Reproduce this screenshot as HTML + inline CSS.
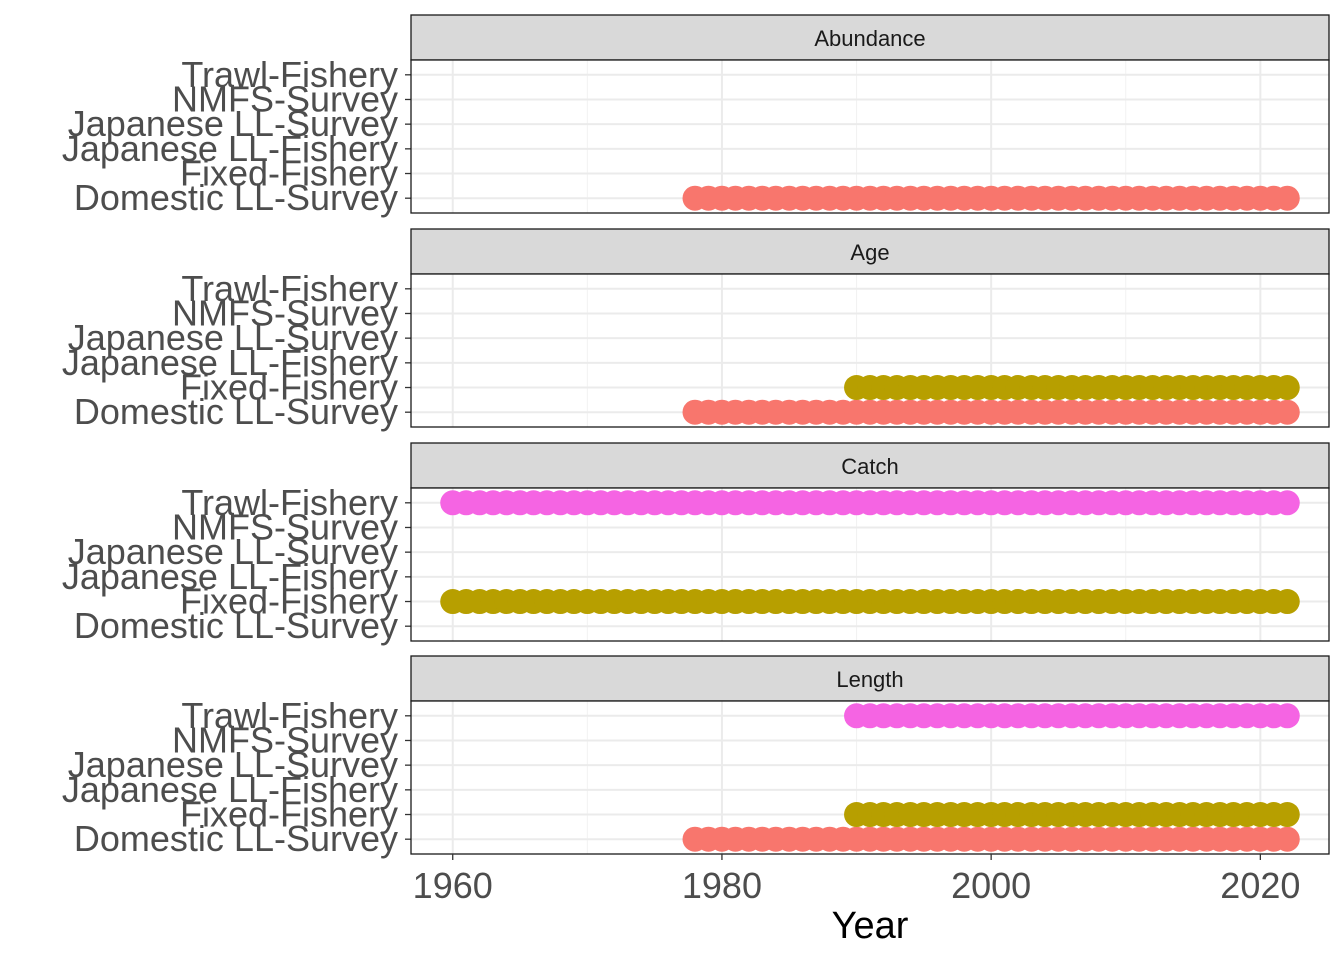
<!DOCTYPE html>
<html><head><meta charset="utf-8">
<style>
html,body{margin:0;padding:0;background:#fff;}
svg{display:block;font-family:"Liberation Sans",Arial,sans-serif;}
</style></head>
<body>
<svg id="chart" width="1344" height="960" viewBox="0 0 1344 960" xmlns="http://www.w3.org/2000/svg"></svg>
<script>
const categories = ["Domestic LL-Survey","Fixed-Fishery","Japanese LL-Fishery","Japanese LL-Survey","NMFS-Survey","Trawl-Fishery"];
const colors = {"Domestic LL-Survey":"#F8766D","Fixed-Fishery":"#B79F00","Trawl-Fishery":"#F564E3"};
const panels = ["Abundance","Age","Catch","Length"];
const xTicks = [1960,1980,2000,2020];
const xMinor = [1970,1990,2010];
// series: [panel, category, startYear, endYear]
const seriesPanel = ["Abundance","Age","Age","Catch","Catch","Length","Length","Length"];
const seriesCat = ["Domestic LL-Survey","Domestic LL-Survey","Fixed-Fishery","Fixed-Fishery","Trawl-Fishery","Domestic LL-Survey","Fixed-Fishery","Trawl-Fishery"];
const seriesStart = [1978,1978,1990,1960,1960,1978,1990,1990];
const seriesEnd = [2022,2022,2022,2022,2022,2022,2022,2022];

const svg = document.getElementById('chart');
const NS = "http://www.w3.org/2000/svg";
function mk(tag, attrs, parent){const e=document.createElementNS(NS,tag);for(const k in attrs)e.setAttribute(k,attrs[k]);(parent||svg).appendChild(e);return e;}

const L=411, R=1329;
const xMin=1956.9, xMax=2025.1;
const xs = y => L + (y - xMin) / (xMax - xMin) * (R - L);
const panelTops = [15,229,443,656];
const stripH = 45, plotH = 153;

panels.forEach((p, pi) => {
  const st = panelTops[pi], pt = st + stripH, pb = pt + plotH;
  const ys = c => pb - (0.6 + categories.indexOf(c)) * (plotH / 6.2);
  const g = mk('g', {});
  
  
  const strip = mk('rect', {x:L, y:st, width:R-L, height:stripH, fill:'#d9d9d9', stroke:'#1a1a1a', 'stroke-width':1.3}, g);
  
  
  const st1 = mk('text', {x:(L+R)/2, y:st+31, 'text-anchor':'middle', 'font-size':22, fill:'#1a1a1a'}, g);
  st1.textContent = p;
  
  
  mk('rect', {x:L, y:pt, width:R-L, height:plotH, fill:'#fff'}, g);
  xMinor.forEach(v => mk('line', {x1:xs(v), x2:xs(v), y1:pt, y2:pb, stroke:'#f2f2f2', 'stroke-width':1}, g));
  xTicks.forEach(v => mk('line', {x1:xs(v), x2:xs(v), y1:pt, y2:pb, stroke:'#ebebeb', 'stroke-width':2}, g));
  categories.forEach(c => {
    const y = ys(c);
    mk('line', {x1:L, x2:R, y1:y, y2:y, stroke:'#ebebeb', 'stroke-width':2}, g);
    mk('line', {x1:L-6, x2:L, y1:y, y2:y, stroke:'#333', 'stroke-width':1.3}, g);
    const t = mk('text', {x:L-13, y:y+12, 'text-anchor':'end', 'font-size':36, fill:'#4d4d4d'}, g);
    t.textContent = c;
    
    
  });
  seriesPanel.forEach((sp, si) => {
    if (sp !== p) return;
    const c = seriesCat[si];
    for (let yr = seriesStart[si]; yr <= seriesEnd[si]; yr++) {
      const pt2 = mk('circle', {cx:xs(yr), cy:ys(c), r:12.5, fill:colors[c]}, g);
      
      
    }
  });
  mk('rect', {x:L, y:pt, width:R-L, height:plotH, fill:'none', stroke:'#1a1a1a', 'stroke-width':1.3}, g);
  if (pi === panels.length - 1) {
    xTicks.forEach(v => {
      mk('line', {x1:xs(v), x2:xs(v), y1:pb, y2:pb+6, stroke:'#333', 'stroke-width':1.3}, g);
      const t = mk('text', {x:xs(v), y:pb+44, 'text-anchor':'middle', 'font-size':36, fill:'#4d4d4d'}, g);
      t.textContent = v;
      
      
    });
  }
});
const xt = mk('text', {x:(L+R)/2, y:938, 'text-anchor':'middle', 'font-size':38, fill:'#000'});
xt.textContent = 'Year';


</script>
</body></html>
